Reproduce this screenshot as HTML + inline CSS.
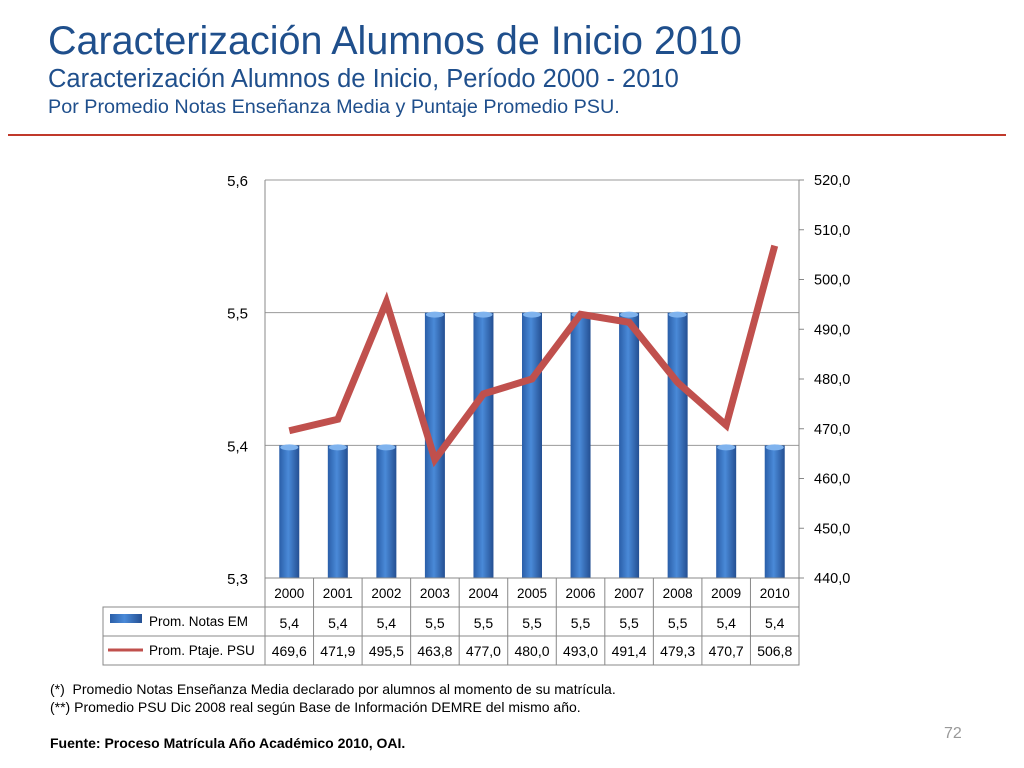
<!DOCTYPE html>
<html><head><meta charset="utf-8"><style>
body{margin:0;width:1024px;height:768px;background:#fff;font-family:"Liberation Sans",sans-serif;position:relative;overflow:hidden}
.t{position:absolute;left:48px;color:#1f4f8c;white-space:nowrap}
.n{position:absolute;font-size:14px;color:#000;left:50px;white-space:nowrap}
</style></head><body>
<div class="t" style="top:19px;font-size:39.5px">Caracterización Alumnos de Inicio 2010</div>
<div class="t" style="top:65px;font-size:25.5px">Caracterización Alumnos de Inicio, Período 2000 - 2010</div>
<div class="t" style="top:96px;font-size:19.8px">Por Promedio Notas Enseñanza Media y Puntaje Promedio PSU.</div>
<div style="position:absolute;left:8px;top:134px;width:998px;height:2px;background:#c0392b"></div>
<svg id="c" width="1024" height="768" style="position:absolute;left:0;top:0" font-family="Liberation Sans, sans-serif"></svg>
<div class="n" style="top:681px">(*)&nbsp; Promedio Notas Enseñanza Media declarado por alumnos al momento de su matrícula.</div>
<div class="n" style="top:699px">(**) Promedio PSU Dic 2008 real según Base de Información DEMRE del mismo año.</div>
<div class="n" style="top:735px;font-weight:bold">Fuente: Proceso Matrícula Año Académico 2010, OAI.</div>
<div style="position:absolute;left:944px;top:725px;font-size:16px;color:#999">72</div>
<script>
const years=["2000","2001","2002","2003","2004","2005","2006","2007","2008","2009","2010"];
const notas=[5.4,5.4,5.4,5.5,5.5,5.5,5.5,5.5,5.5,5.4,5.4];
const psu=[469.6,471.9,495.5,463.8,477.0,480.0,493.0,491.4,479.3,470.7,506.8];
const leftTicks=[5.3,5.4,5.5,5.6];
const rightTicks=[440,450,460,470,480,490,500,510,520];
const svg=document.getElementById('c');const NS='http://www.w3.org/2000/svg';
const X0=265,X1=799,Y0=578,Y1=180,cw=(X1-X0)/years.length;
const yL=v=>Y0-(v-5.3)/(0.3)*(Y0-Y1);
const yR=v=>Y0-(v-440)/80*(Y0-Y1);
const xc=i=>X0+cw*(i+0.5);
function el(t,a,txt){const e=document.createElementNS(NS,t);for(const k in a)e.setAttribute(k,a[k]);if(txt!==undefined)e.textContent=txt;svg.appendChild(e);return e;}
const fmt=(v,d)=>v.toFixed(d).replace('.',',');
const defs=el('defs',{});
defs.innerHTML='<linearGradient id="bg" x1="0" x2="1"><stop offset="0" stop-color="#2a5ea8"/><stop offset="0.45" stop-color="#4a8ad8"/><stop offset="1" stop-color="#244f92"/></linearGradient>';
leftTicks.forEach(v=>{
 let g=el('line',{x1:X0,x2:X1,y1:yL(v),y2:yL(v),stroke:'#999','stroke-width':1});
 
 let t=el('text',{x:248,y:yL(v)+6,'text-anchor':'end','font-size':15},fmt(v,1));
 
});
rightTicks.forEach(v=>{
 let t=el('text',{x:814,y:yR(v)+5,'font-size':14.5},fmt(v,1));
 
 el('line',{x1:X1,x2:X1+5,y1:yR(v),y2:yR(v),stroke:'#888'});
});
el('line',{x1:X0,x2:X0,y1:Y1,y2:Y0,stroke:'#888'});
el('line',{x1:X1,x2:X1,y1:Y1,y2:Y0,stroke:'#888'});
notas.forEach((v,i)=>{
 let r=el('rect',{x:xc(i)-10,y:yL(v),width:20,height:Y0-yL(v),fill:'url(#bg)'});
 
 el('ellipse',{cx:xc(i),cy:yL(v)+2,rx:9,ry:3,fill:'#7fb3ee'});
});
let p=el('polyline',{points:psu.map((v,i)=>xc(i)+','+yR(v)).join(' '),fill:'none',stroke:'#c0504d','stroke-width':7,'stroke-linejoin':'miter'});

const R=[578,607,636,665];
el('rect',{x:X0,y:R[0],width:X1-X0,height:R[3]-R[0],fill:'none',stroke:'#888'});
el('rect',{x:103,y:R[1],width:X0-103,height:R[3]-R[1],fill:'none',stroke:'#888'});
[R[1],R[2]].forEach(y=>el('line',{x1:103,x2:X1,y1:y,y2:y,stroke:'#888'}));
for(let i=1;i<years.length;i++)el('line',{x1:X0+cw*i,x2:X0+cw*i,y1:R[0],y2:R[3],stroke:'#888'});
years.forEach((y,i)=>{
 let t=el('text',{x:xc(i),y:R[0]+20,'text-anchor':'middle','font-size':13.5},y);
 t=el('text',{x:xc(i),y:R[1]+21,'text-anchor':'middle','font-size':14},fmt(notas[i],1));
 t=el('text',{x:xc(i),y:R[2]+20,'text-anchor':'middle','font-size':14},fmt(psu[i],1));
});
let lg=el('rect',{x:110,y:614,width:32,height:9,fill:'url(#bg)'});
let lt=el('text',{x:149,y:626,'font-size':13.5},'Prom. Notas EM');
el('line',{x1:108,x2:143,y1:650,y2:650,stroke:'#c0504d','stroke-width':3});
lt=el('text',{x:149,y:655,'font-size':13.5},'Prom. Ptaje. PSU');
</script>
</body></html>
